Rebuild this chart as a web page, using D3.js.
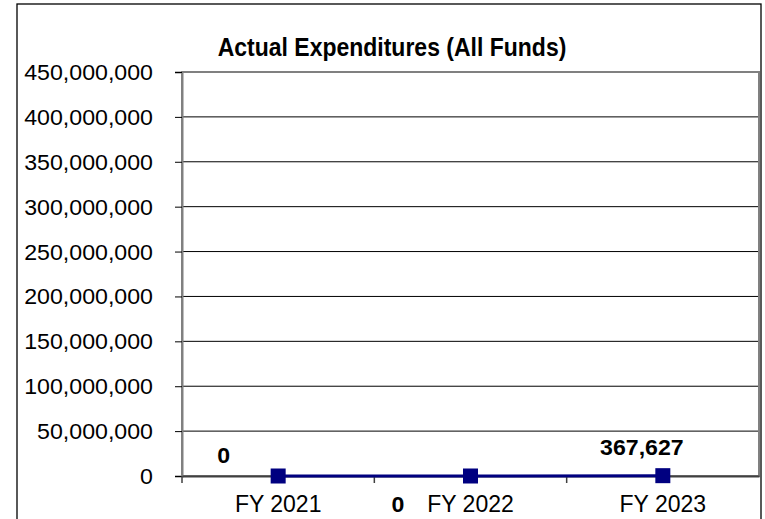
<!DOCTYPE html>
<html><head><meta charset="utf-8">
<script src="https://cdn.jsdelivr.net/npm/d3@7"></script>
<style>body{margin:0;background:#fff}svg{display:block;font-family:Arial,"Liberation Sans",sans-serif}</style>
</head><body>
<svg id="c" width="765" height="519"></svg>
<script>
const categories = ["FY 2021", "FY 2022", "FY 2023"];
const values = [0, 0, 367627];
const valueLabels = ["0", "0", "367,627"];
const yTicks = [0, 50000000, 100000000, 150000000, 200000000, 250000000, 300000000, 350000000, 400000000, 450000000];
const title = "Actual Expenditures (All Funds)";

const svg = d3.select("#c");
const L = 182, R = 759, T = 72, B = 476;
const x = d3.scaleBand().domain(categories).range([L, R]);
const y = d3.scaleLinear().domain([0, 450000000]).range([B, T]);
const fmt = d3.format(",");
const FONT = "Arial, 'Liberation Sans', sans-serif";

function stext(g, tx, ty, sx, sy, fs, anchor, weight, str) {
  return g.append("text")
    .attr("transform", `translate(${tx},${ty}) scale(${sx},${sy})`)
    .attr("font-size", fs).attr("font-family", FONT).attr("font-weight", weight)
    .attr("text-anchor", anchor).attr("fill", "#000").text(str);
}

// outer border
svg.append("rect").attr("x", 17).attr("y", 4).attr("width", 744).attr("height", 530)
  .attr("fill", "none").attr("stroke", "#000").attr("stroke-width", 1.3);

// gridlines
svg.append("g").selectAll("line").data(yTicks.slice(1)).join("line")
  .attr("x1", L).attr("x2", R).attr("y1", d => y(d)).attr("y2", d => y(d))
  .attr("stroke", "#000").attr("stroke-width", 1);

// plot border
svg.append("rect").attr("x", L).attr("y", T).attr("width", R - L).attr("height", B - T)
  .attr("fill", "none").attr("stroke", "#808080").attr("stroke-width", 2);

// y axis
const ya = d3.axisLeft(y).tickValues(yTicks).tickFormat("").tickSize(7);
const gy = svg.append("g").attr("transform", `translate(${L},0)`).call(ya);
gy.select(".domain").attr("stroke", "#808080").attr("stroke-width", 2);
gy.selectAll(".tick line").attr("stroke", "#000");
const gyl = svg.append("g");
yTicks.forEach(v => stext(gyl, 153, y(v) + 8, 1.03, 1, 22.5, "end", "normal", fmt(v)));

// x axis
const xa = d3.axisBottom(x).tickSize(0).tickFormat("");
const gx = svg.append("g").attr("transform", `translate(0,${B})`).call(xa);
gx.select(".domain").attr("stroke", "#404040").attr("stroke-width", 2);
svg.append("g").selectAll("line").data(categories).join("line")
  .attr("x1", d => x(d)).attr("x2", d => x(d)).attr("y1", B).attr("y2", B + 7)
  .attr("stroke", "#404040").attr("stroke-width", 1.5);
const gxl = svg.append("g");
categories.forEach(c => stext(gxl, x(c) + x.bandwidth() / 2, 512, 1, 1, 23, "middle", "normal", c));

// title
stext(svg, 392, 56, 1, 1.12, 23, "middle", "bold", title);

// line
const cx = d => x(d) + x.bandwidth() / 2;
svg.append("path").datum(categories.map((c, i) => [cx(c), y(values[i])]))
  .attr("d", d3.line()).attr("fill", "none").attr("stroke", "#000080").attr("stroke-width", 3);
svg.append("g").selectAll("rect").data(categories).join("rect")
  .attr("x", d => cx(d) - 7.5).attr("y", (d, i) => y(values[i]) - 7.5)
  .attr("width", 15).attr("height", 15).attr("fill", "#000080");

// data labels
const labelPos = [[-54.5, -13], [-72.5, 36], [-21, -21]];
const gdl = svg.append("g");
categories.forEach((c, i) => stext(gdl, cx(c) + labelPos[i][0], y(values[i]) + labelPos[i][1], 1.05, 1, 22, "middle", "bold", valueLabels[i]));
</script>
</body></html>
